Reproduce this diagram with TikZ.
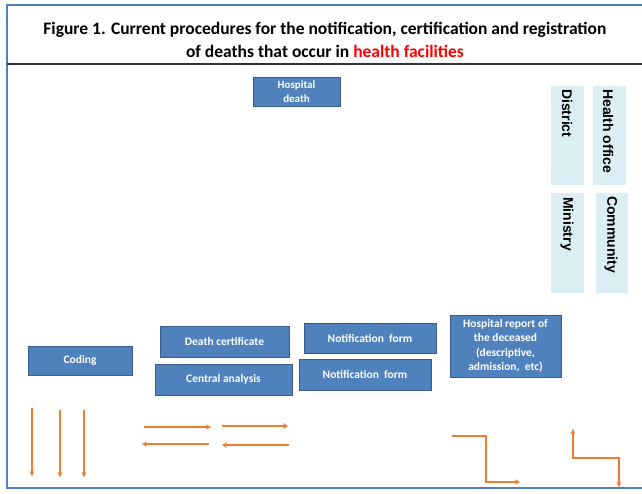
\documentclass[tikz,border=0pt]{standalone}
\usepackage{fontspec}
\setmainfont{Carlito}
\newfontfamily\sidefont{Liberation Sans}
\usetikzlibrary{arrows.meta}
\definecolor{boxfill}{HTML}{4F81BD}
\definecolor{boxedge}{HTML}{385D8A}
\definecolor{sidefill}{HTML}{DAEEF3}
\definecolor{arrorange}{HTML}{ED7D31}
\definecolor{framecol}{HTML}{4F81BD}
\tikzset{
  x=1pt, y=-1pt,
  bluebox/.style={draw=boxedge, fill=boxfill, line width=0.8pt, text=white,
    font=\bfseries\fontsize{11.5}{14.5}\selectfont, align=center, inner sep=0pt},
  sidetext/.style={rotate=-90, anchor=west, font=\sidefont\bfseries\fontsize{14}{16}\selectfont, inner sep=0pt},
  orarrow/.style={draw=arrorange, line width=1.4pt, -{Stealth[length=5pt,width=5pt]}},
  orthick/.style={draw=arrorange, line width=2.4pt, -{Stealth[length=5pt,width=6pt]}},
}
\begin{document}
\begin{tikzpicture}
\useasboundingbox (0,0) rectangle (642,493);
\fill[white] (0,0) rectangle (642,493);
% frame
\draw[framecol, line width=1.8pt] (642,5) -- (7,5) -- (7,488) -- (642,488);
\draw[black!80, line width=1.4pt] (7,64) -- (642,64);
% title
\node[font=\bfseries\fontsize{17.5}{23}\selectfont, align=center] (title) at (325,40)
  {Figure 1. Current procedures for the notification, certification and registration\\
   of deaths that occur in \textcolor{red}{health facilities}};
% boxes
\node[bluebox, minimum width=87, minimum height=29, font=\bfseries\fontsize{11}{14}\selectfont] (hd) at (296.5,91.5) {Hospital\\death};
\node[bluebox, minimum width=104, minimum height=29] (coding) at (80,360.5) {Coding};
\node[bluebox, minimum width=129, minimum height=31] (dc) at (224.5,341.5) {Death certificate};
\node[bluebox, minimum width=137, minimum height=31] (ca) at (223.5,379.5) {Central analysis};
\node[bluebox, minimum width=132, minimum height=30] (nf1) at (370,338) {Notification\ \ form};
\node[bluebox, minimum width=132, minimum height=31] (nf2) at (365,374.5) {Notification\ \ form};
\node[bluebox, minimum width=111, minimum height=62] (hr) at (505.5,346)
  {Hospital report of\\the deceased\\(descriptive,\\admission,\ \ etc)};
% side boxes
\fill[sidefill] (551,86) rectangle (584,185);
\fill[sidefill] (593,86) rectangle (626,185);
\fill[sidefill] (551,193) rectangle (584,293);
\fill[sidefill] (596,193) rectangle (628,293);
\node[sidetext] (district) at (567,89) {District};
\node[sidetext] (health) at (608,89) {Health office};
\node[sidetext] (ministry) at (567,197) {Ministry};
\node[sidetext] (community) at (611,196) {Community};
% arrows
\coordinate (v1a) at (32,408); \coordinate (v1b) at (32,476);
\coordinate (v2a) at (60,410); \coordinate (v2b) at (60,477);
\coordinate (v3a) at (84,410); \coordinate (v3b) at (84,477);
\draw[orarrow] (v1a) -- (v1b);
\draw[orarrow] (v2a) -- (v2b);
\draw[orarrow] (v3a) -- (v3b);
\coordinate (h1a) at (144,427); \coordinate (h1b) at (211,427);
\coordinate (h2a) at (209,444); \coordinate (h2b) at (142,444);
\coordinate (h3a) at (222,426); \coordinate (h3b) at (288,426);
\coordinate (h4a) at (289,445); \coordinate (h4b) at (222,445);
\draw[orarrow] (h1a) -- (h1b);
\draw[orarrow] (h2a) -- (h2b);
\draw[orthick] (h3a) -- (h3b);
\draw[orthick] (h4a) -- (h4b);
\coordinate (e1a) at (452,436); \coordinate (e1b) at (520,482);
\draw[orarrow, line width=1.1pt] (e1a) -- (486,436) -- (486,482) -- (e1b);
\coordinate (e2a) at (573,429); \coordinate (e2b) at (619,487);
\draw[orarrow, line width=1.1pt, {Stealth[length=5pt,width=5pt]}-{Stealth[length=5pt,width=5pt]}] (e2a) -- (573,458) -- (619,458) -- (e2b);
\end{tikzpicture}
\end{document}
